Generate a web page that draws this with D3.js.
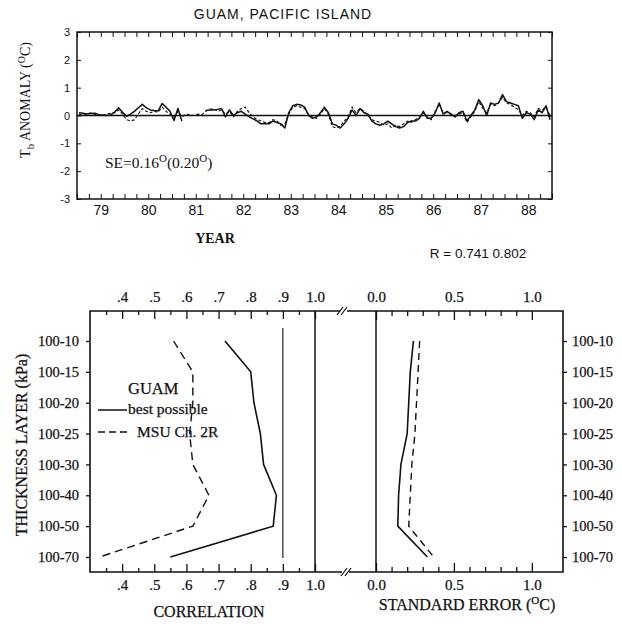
<!DOCTYPE html>
<html><head><meta charset="utf-8">
<script src="https://cdn.jsdelivr.net/npm/d3@7"></script>
<style>
html,body{margin:0;padding:0;background:#fff;}
svg{display:block;}
.sans{font-family:"Liberation Sans","DejaVu Sans",Arial,sans-serif;}
.serif{font-family:"Liberation Serif","DejaVu Serif","Times New Roman",serif;}
</style></head>
<body>
<script>
// ---------- DATA ----------
const years = [1979,1980,1981,1982,1983,1984,1985,1986,1987,1988];
const yearLabels = ["79","80","81","82","83","84","85","86","87","88"];
const anomalyTicks = [-3,-2,-1,0,1,2,3];
// monthly Tb anomaly, Jan 1979 .. Dec 1988 (solid = best possible, dashed = MSU Ch. 2R)
const bestSeries = [
 0.10,0.08,0.05,0.07,0.08,0.03,0.02,0.00,0.02,0.12,0.28,0.12,
 -0.03,0.05,0.15,0.28,0.40,0.28,0.20,0.18,0.17,0.43,0.30,0.15,
 -0.18,0.25,-0.20,null,null,null,null,null,0.18,0.20,0.20,0.22,
 0.25,-0.05,0.20,0.00,0.10,0.15,0.05,-0.05,-0.12,-0.20,-0.30,-0.30,
 -0.30,-0.20,-0.25,-0.30,-0.45,0.10,0.35,0.40,0.38,0.30,0.00,-0.10,
 -0.05,0.10,0.30,0.10,-0.30,-0.35,-0.45,-0.30,-0.10,0.20,0.00,0.25,
 0.10,0.05,-0.20,-0.30,-0.35,-0.30,-0.20,-0.30,-0.40,-0.45,-0.40,-0.25,
 -0.20,-0.20,-0.10,0.15,-0.10,-0.10,0.10,0.45,0.05,0.15,0.05,-0.05,
 0.10,0.15,-0.20,0.00,0.20,0.57,0.35,0.00,0.45,0.40,0.45,0.75,
 0.50,0.45,0.40,0.35,-0.10,0.10,0.05,-0.15,0.20,0.10,0.35,-0.15
];
const msuSeries = [
 0.05,0.00,0.05,0.10,0.05,0.02,0.00,0.05,0.08,0.10,0.20,0.05,
 -0.15,-0.20,-0.15,0.05,0.25,0.15,0.10,0.15,0.12,0.30,0.15,0.05,
 -0.05,0.15,-0.05,0.05,0.03,0.00,0.05,0.03,0.15,0.22,0.25,0.15,
 0.20,0.05,0.15,-0.05,0.15,0.25,0.30,0.10,-0.05,-0.15,-0.20,-0.25,
 -0.25,-0.15,-0.20,-0.35,-0.30,0.05,0.30,0.35,0.30,0.25,0.05,-0.05,
 -0.10,0.05,0.25,0.05,-0.40,-0.45,-0.40,-0.20,-0.05,0.30,0.10,0.25,
 0.15,0.00,-0.15,-0.20,-0.25,-0.35,-0.30,-0.45,-0.35,-0.40,-0.30,-0.20,
 -0.25,-0.15,-0.05,0.10,-0.05,-0.15,0.15,0.40,0.10,0.10,0.05,0.00,
 0.05,0.10,-0.25,-0.05,0.15,0.50,0.25,0.10,0.40,0.35,0.45,0.65,
 0.45,0.40,0.30,0.20,0.00,0.15,0.10,-0.05,0.25,0.20,0.30,0.00
];
const layers = ["100-10","100-15","100-20","100-25","100-30","100-40","100-50","100-70"];
const corrBest = [0.72,0.80,0.81,0.83,0.84,0.88,0.87,0.55];
const corrMSU  = [0.56,0.62,0.62,0.61,0.62,0.67,0.62,0.33];
const seBest   = [0.24,0.22,0.21,0.20,0.16,0.145,0.14,0.33];
const seMSU    = [0.28,0.27,0.26,0.25,0.23,0.22,0.21,0.37];
const corrTicks = [0.4,0.5,0.6,0.7,0.8,0.9,1.0];
const corrTickLabels = [".4",".5",".6",".7",".8",".9","1.0"];
const corrMinor = [0.35,0.45,0.55,0.65,0.75,0.85,0.95];
const seTicks = [0.0,0.5,1.0];
const seTickLabels = ["0.0","0.5","1.0"];
const seMinor = [0.1,0.2,0.3,0.4,0.6,0.7,0.8,0.9];

// ---------- SVG ----------
const W = 622, H = 624;
const svg = d3.select("body").append("svg").attr("width", W).attr("height", H);
svg.append("rect").attr("width", W).attr("height", H).attr("fill", "#fff");
const ink = "#111";

// ================= TOP CHART =================
const T = {l:77, r:552, t:32, b:199};
const xT = d3.scaleLinear().domain([1979, 1989]).range([T.l, T.r]);
const yT = d3.scaleLinear().domain([-3, 3]).range([T.b, T.t]);

svg.append("text").attr("class","sans").attr("x", 283).attr("y", 19)
  .attr("text-anchor","middle").attr("font-size", 14).attr("letter-spacing", 1)
  .attr("fill", ink).text("GUAM, PACIFIC ISLAND");

// quarterly ticks top & bottom (inward)
const quarters = d3.range(1979, 1989.001, 0.25);
svg.append("g").attr("transform", `translate(0,${T.t})`)
  .call(d3.axisTop(xT).tickValues(quarters).tickSize(-5).tickFormat(""))
  .call(g => g.select(".domain").remove())
  .call(g => g.selectAll("line").attr("stroke", ink).attr("stroke-width", 1));
svg.append("g").attr("transform", `translate(0,${T.b})`)
  .call(d3.axisBottom(xT).tickValues(quarters).tickSize(-5).tickFormat(""))
  .call(g => g.select(".domain").remove())
  .call(g => g.selectAll("line").attr("stroke", ink).attr("stroke-width", 1));
// year labels
svg.append("g").attr("transform", `translate(0,${T.b})`)
  .call(d3.axisBottom(xT).tickValues(years.map(y => y + 0.5)).tickSize(0).tickPadding(6)
        .tickFormat((d, i) => yearLabels[i]))
  .call(g => g.select(".domain").remove())
  .call(g => g.selectAll("text").attr("class","sans").attr("font-size", 14).attr("fill", ink));
// left axis
svg.append("g").attr("transform", `translate(${T.l},0)`)
  .call(d3.axisLeft(yT).tickValues(anomalyTicks).tickSize(-4).tickPadding(7)
        .tickFormat(d => String(d)))
  .call(g => g.select(".domain").remove())
  .call(g => g.selectAll("line").attr("stroke", ink))
  .call(g => g.selectAll("text").attr("class","sans").attr("font-size", 11).attr("fill", ink));
// right axis
svg.append("g").attr("transform", `translate(${T.r},0)`)
  .call(d3.axisRight(yT).tickValues(anomalyTicks).tickSize(-4).tickFormat(""))
  .call(g => g.select(".domain").remove())
  .call(g => g.selectAll("line").attr("stroke", ink));
// frame
svg.append("rect").attr("x", T.l).attr("y", T.t).attr("width", T.r - T.l).attr("height", T.b - T.t)
  .attr("fill","none").attr("stroke", ink).attr("stroke-width", 1.5);
// zero line
svg.append("line").attr("x1", T.l).attr("x2", T.r).attr("y1", yT(0)).attr("y2", yT(0))
  .attr("stroke", ink).attr("stroke-width", 1.4);

const monthX = i => xT(1979 + (i + 0.5) / 12);
const lineT = d3.line().defined(d => d != null).x((d, i) => monthX(i)).y(d => yT(d));
svg.append("path").datum(msuSeries).attr("d", lineT).attr("fill","none")
  .attr("stroke", ink).attr("stroke-width", 1.1).attr("stroke-dasharray","3,2");
svg.append("path").datum(bestSeries).attr("d", lineT).attr("fill","none")
  .attr("stroke", ink).attr("stroke-width", 1.5).attr("stroke-linejoin","round");

// SE text
const se = svg.append("text").attr("class","serif").attr("x", 105).attr("y", 168)
  .attr("font-size", 15.5).attr("fill", ink);
se.append("tspan").text("SE=0.16");
se.append("tspan").attr("dy", -6).attr("font-size", 11).text("O");
se.append("tspan").attr("dy", 6).text("(0.20");
se.append("tspan").attr("dy", -6).attr("font-size", 11).text("O");
se.append("tspan").attr("dy", 6).text(")");

// y label
const yl = svg.append("text").attr("class","serif").attr("font-size", 14).attr("fill", ink)
  .attr("text-anchor","middle").attr("transform", "translate(30,100) rotate(-90)");
yl.append("tspan").text("T");
yl.append("tspan").attr("dy", 4).attr("font-size", 11).text("b");
yl.append("tspan").attr("dy", -4).text(" ANOMALY  (");
yl.append("tspan").attr("dy", -5).attr("font-size", 10).text("O");
yl.append("tspan").attr("dy", 5).text("C)");

svg.append("text").attr("class","serif").attr("x", 215).attr("y", 243).attr("text-anchor","middle")
  .attr("font-size", 14).attr("font-weight","bold").attr("fill", ink).text("YEAR");
svg.append("text").attr("class","sans").attr("x", 478).attr("y", 258).attr("text-anchor","middle")
  .attr("font-size", 13.5).attr("fill", ink).text("R = 0.741 0.802");

// ================= BOTTOM CHART =================
const B = {l:90, r:563, t:311, b:572};
const xC = d3.scaleLinear().domain([0.3, 1.0]).range([90, 315]);
const xS = d3.scaleLinear().domain([0, 1.2]).range([376, 563]);
const yL = d3.scalePoint().domain(layers).range([341, 557]);

function styleAxis(g, fs) {
  g.select(".domain").remove();
  g.selectAll("line").attr("stroke", ink).attr("stroke-width", 1.3);
  g.selectAll("text").attr("class","serif").attr("font-size", fs).attr("fill", ink)
    .attr("stroke", ink).attr("stroke-width", 0.25);
}
// correlation axes
svg.append("g").attr("transform", `translate(0,${B.t})`)
  .call(d3.axisTop(xC).tickValues(corrTicks).tickSize(-8).tickPadding(9).tickFormat((d,i) => corrTickLabels[i]))
  .call(g => styleAxis(g, 15));
svg.append("g").attr("transform", `translate(0,${B.t})`)
  .call(d3.axisTop(xC).tickValues(corrMinor).tickSize(-4).tickFormat(""))
  .call(g => styleAxis(g, 15));
svg.append("g").attr("transform", `translate(0,${B.b})`)
  .call(d3.axisBottom(xC).tickValues(corrTicks).tickSize(-8).tickPadding(7).tickFormat((d,i) => corrTickLabels[i]))
  .call(g => styleAxis(g, 15));
svg.append("g").attr("transform", `translate(0,${B.b})`)
  .call(d3.axisBottom(xC).tickValues(corrMinor).tickSize(-4).tickFormat(""))
  .call(g => styleAxis(g, 15));
// SE axes
svg.append("g").attr("transform", `translate(0,${B.t})`)
  .call(d3.axisTop(xS).tickValues(seTicks).tickSize(-9).tickPadding(9).tickFormat((d,i) => seTickLabels[i]))
  .call(g => styleAxis(g, 15));
svg.append("g").attr("transform", `translate(0,${B.t})`)
  .call(d3.axisTop(xS).tickValues(seMinor).tickSize(-5).tickFormat(""))
  .call(g => styleAxis(g, 15));
svg.append("g").attr("transform", `translate(0,${B.b})`)
  .call(d3.axisBottom(xS).tickValues(seTicks).tickSize(-9).tickPadding(7).tickFormat((d,i) => seTickLabels[i]))
  .call(g => styleAxis(g, 15));
svg.append("g").attr("transform", `translate(0,${B.b})`)
  .call(d3.axisBottom(xS).tickValues(seMinor).tickSize(-5).tickFormat(""))
  .call(g => styleAxis(g, 15));
// layer axes
svg.append("g").attr("transform", `translate(${B.l},0)`)
  .call(d3.axisLeft(yL).tickSize(4).tickPadding(7))
  .call(g => styleAxis(g, 14.5));
svg.append("g").attr("transform", `translate(${B.r},0)`)
  .call(d3.axisRight(yL).tickSize(4).tickPadding(5))
  .call(g => styleAxis(g, 14.5));

// frame with axis break
const bx = 343;
const fr = svg.append("g").attr("stroke", ink).attr("stroke-width", 1.6).attr("fill","none");
fr.append("path").attr("d", `M${bx-3},${B.t} H${B.l} V${B.b} H${bx-1}`);
fr.append("path").attr("d", `M${bx+4},${B.t} H${B.r} V${B.b} H${bx+6}`);
const brk = svg.append("g").attr("stroke", ink).attr("stroke-width", 1.2);
[[bx-1, B.t], [bx+3, B.b]].forEach(([x, y]) => {
  brk.append("line").attr("x1", x-5).attr("y1", y+4).attr("x2", x+1).attr("y2", y-4);
  brk.append("line").attr("x1", x-1).attr("y1", y+4).attr("x2", x+5).attr("y2", y-4);
});

// reference vertical lines
svg.append("line").attr("x1", xC(1.0)).attr("x2", xC(1.0)).attr("y1", B.t).attr("y2", B.b)
  .attr("stroke", ink).attr("stroke-width", 1.5);
svg.append("line").attr("x1", xS(0)).attr("x2", xS(0)).attr("y1", B.t).attr("y2", B.b)
  .attr("stroke", ink).attr("stroke-width", 1.5);
svg.append("line").attr("x1", xC(0.9)).attr("x2", xC(0.9)).attr("y1", 328).attr("y2", 558)
  .attr("stroke", ink).attr("stroke-width", 1.1);

// profile lines
const lineC = d3.line().x(d => xC(d.v)).y(d => yL(d.k));
const lineS = d3.line().x(d => xS(d.v)).y(d => yL(d.k));
const pack = arr => arr.map((v, i) => ({k: layers[i], v}));
svg.append("path").datum(pack(corrBest)).attr("d", lineC).attr("fill","none").attr("stroke", ink).attr("stroke-width", 1.6);
svg.append("path").datum(pack(corrMSU)).attr("d", lineC).attr("fill","none").attr("stroke", ink).attr("stroke-width", 1.4).attr("stroke-dasharray","8,5");
svg.append("path").datum(pack(seBest)).attr("d", lineS).attr("fill","none").attr("stroke", ink).attr("stroke-width", 1.6);
svg.append("path").datum(pack(seMSU)).attr("d", lineS).attr("fill","none").attr("stroke", ink).attr("stroke-width", 1.4).attr("stroke-dasharray","7,5");

// legend
const lg = t => t.attr("stroke", ink).attr("stroke-width", 0.25);
svg.append("text").attr("class","serif").attr("x", 128).attr("y", 394).attr("font-size", 16.5).attr("fill", ink).text("GUAM").call(lg);
svg.append("line").attr("x1", 98).attr("x2", 127).attr("y1", 410).attr("y2", 410).attr("stroke", ink).attr("stroke-width", 1.5);
svg.append("text").attr("class","serif").attr("x", 128).attr("y", 414).attr("font-size", 15.5).attr("fill", ink).text("best possible").call(lg);
svg.append("line").attr("x1", 98).attr("x2", 127).attr("y1", 432).attr("y2", 432).attr("stroke", ink).attr("stroke-width", 1.4).attr("stroke-dasharray","7,4");
svg.append("text").attr("class","serif").attr("x", 137).attr("y", 437).attr("font-size", 15.5).attr("fill", ink).text("MSU Ch. 2R").call(lg);

// axis titles
svg.append("text").attr("class","serif").attr("font-size", 16).attr("fill", ink).attr("text-anchor","middle")
  .attr("transform", "translate(27,445) rotate(-90)").text("THICKNESS LAYER (kPa)").call(lg);
svg.append("text").attr("class","serif").attr("x", 209).attr("y", 617).attr("text-anchor","middle")
  .attr("font-size", 16).attr("fill", ink).text("CORRELATION").call(lg);
const st = svg.append("text").attr("class","serif").attr("x", 467).attr("y", 610).attr("text-anchor","middle")
  .attr("font-size", 16).attr("fill", ink).call(lg);
st.append("tspan").text("STANDARD ERROR (");
st.append("tspan").attr("dy", -6).attr("font-size", 11).text("O");
st.append("tspan").attr("dy", 6).text("C)");
</script>
</body></html>
